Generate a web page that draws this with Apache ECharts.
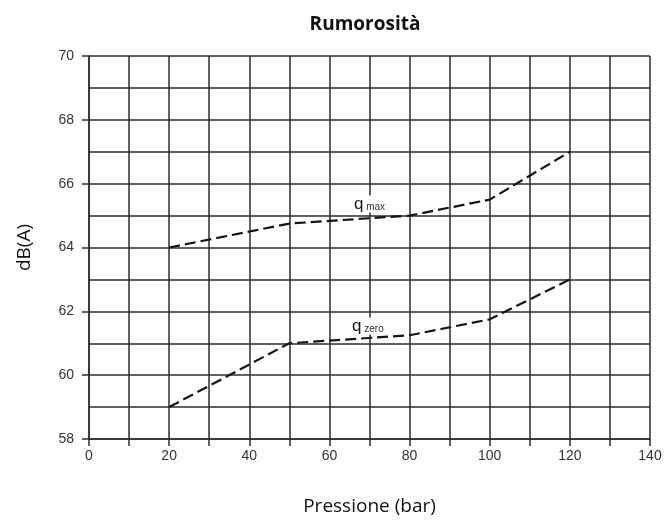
<!DOCTYPE html>
<html><head><meta charset="utf-8">
<script src="https://cdn.jsdelivr.net/npm/echarts@6/dist/echarts.min.js"></script>
<style>html,body{margin:0;padding:0;background:#fff}#c{width:666px;height:527px}</style>
</head><body><div id="c"></div>
<script>
const pressure = [20, 50, 80, 100, 120];
const qMax = [64, 64.75, 65, 65.5, 67];
const qZero = [59, 61, 61.25, 61.75, 63];
const title = 'Rumorosità';
const xName = 'Pressione (bar)';
const yName = 'dB(A)';

const lineCol = '#151515';
const gridStyle = {color: '#2e2e2e', width: 1.5};
const chart = echarts.init(document.getElementById('c'), null, {renderer: 'canvas'});
function pairs(v){ return pressure.map((p,i)=>[p, v[i]]); }
function lbl(sub){
  return {
    show: true,
    formatter: '{q|q}{s| ' + sub + '}',
    backgroundColor: '#fff',
    padding: [0, 2, 0, 2],
    rich: {
      q: {fontFamily: 'Liberation Sans', fontSize: 17, color: '#1a1a1a'},
      s: {fontFamily: 'Liberation Sans', fontSize: 10, color: '#333', verticalAlign: 'bottom', padding: [7,0,0,0]}
    }
  };
}
chart.setOption({
  animation: false,
  title: {text: title, left: 360, textAlign: 'center', top: 10,
    textStyle: {fontFamily: 'Open Sans', fontWeight: 'bold', fontSize: 19, color: '#111'}},
  grid: {left: 89, right: 16, top: 56, bottom: 88},
  xAxis: {
    type: 'value', min: 0, max: 140, interval: 20,
    name: xName, nameLocation: 'middle', nameGap: 58,
    nameTextStyle: {fontFamily: 'Open Sans', fontSize: 19, color: '#111'},
    axisLine: {show: true, lineStyle: gridStyle},
    axisTick: {show: true, length: 7, lineStyle: gridStyle},
    minorTick: {show: true, splitNumber: 2, length: 7, lineStyle: gridStyle},
    splitLine: {show: true, lineStyle: gridStyle},
    minorSplitLine: {show: true, lineStyle: gridStyle},
    axisLabel: {fontFamily: 'Liberation Sans', fontSize: 14, color: '#333', margin: 10}
  },
  yAxis: {
    type: 'value', min: 58, max: 70, interval: 2,
    name: yName, nameLocation: 'middle', nameGap: 55, nameRotate: 90,
    nameTextStyle: {fontFamily: 'Open Sans', fontSize: 19, color: '#111'},
    axisLine: {show: true, lineStyle: gridStyle},
    axisTick: {show: true, length: 7, lineStyle: gridStyle},
    minorTick: {show: false, splitNumber: 2},
    splitLine: {show: true, lineStyle: gridStyle},
    minorSplitLine: {show: true, lineStyle: gridStyle},
    axisLabel: {fontFamily: 'Liberation Sans', fontSize: 14, color: '#333', margin: 15}
  },
  series: [
    {type: 'line', name: 'q max', data: pairs(qMax), symbol: 'none',
     lineStyle: {color: lineCol, width: 2.2, type: [11, 5]},
     markPoint: {symbol: 'rect', symbolSize: 0, data: [{coord: [70, 65.36], label: lbl('max')}]}},
    {type: 'line', name: 'q zero', data: pairs(qZero), symbol: 'none',
     lineStyle: {color: lineCol, width: 2.2, type: [11, 5]},
     markPoint: {symbol: 'rect', symbolSize: 0, data: [{coord: [69.6, 61.54], label: lbl('zero')}]}}
  ]
});
</script></body></html>
